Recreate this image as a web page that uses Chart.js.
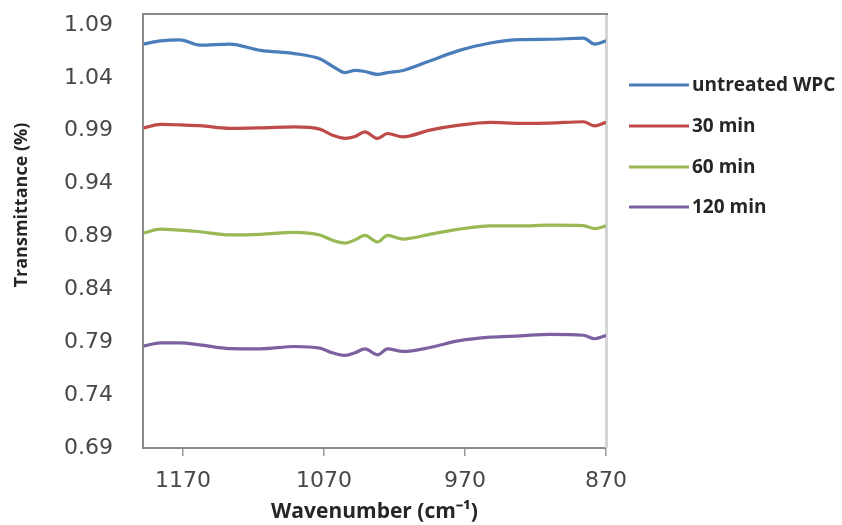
<!DOCTYPE html>
<html>
<head>
<meta charset="utf-8">
<script src="https://cdn.jsdelivr.net/npm/chart.js@4/dist/chart.umd.min.js"></script>
<style>
html,body{margin:0;padding:0;background:#fff;}
#wrap{width:842px;height:525px;}
</style>
</head>
<body>
<div id="wrap"><canvas id="c" width="842" height="525"></canvas></div>
<script>
const wavenumbers = [1198,1186,1172,1158,1137,1115,1091,1073,1064,1055,1048,1041,1032,1025,1014,995,974,952,931,910,886,878,870];
const untreatedWPC = [1.072,1.075,1.076,1.071,1.072,1.066,1.063,1.058,1.051,1.045,1.047,1.046,1.0433,1.045,1.047,1.056,1.066,1.073,1.0762,1.0765,1.0775,1.072,1.075];
const min30 = [0.9927,0.996,0.9955,0.9948,0.9922,0.9927,0.9937,0.9915,0.9858,0.9827,0.9845,0.989,0.9827,0.9874,0.9842,0.9906,0.9953,0.9979,0.997,0.9972,0.9985,0.9946,0.9979];
const min60 = [0.8933,0.897,0.896,0.8945,0.8915,0.892,0.8939,0.8914,0.8864,0.8838,0.8868,0.8911,0.8848,0.8911,0.8876,0.892,0.897,0.9,0.9,0.9007,0.9003,0.8974,0.9];
const min120 = [0.7863,0.7895,0.7895,0.7875,0.784,0.7838,0.786,0.7844,0.78,0.7775,0.78,0.7838,0.7781,0.7838,0.7813,0.785,0.7915,0.7948,0.796,0.7975,0.7966,0.7933,0.7964];
const seriesNames = ["untreated WPC","30 min","60 min","120 min"];
const seriesColors = ["#4a7ebb","#be4b48","#98b954","#7d60a0"];
const xTickValues = [1170,1070,970,870];
const yTickValues = [0.69,0.74,0.79,0.84,0.89,0.94,0.99,1.04,1.09];
const xTitle = 'Wavenumber (cm\u207B\u00B9)';
const yTitle = 'Transmittance (%)';

const allSeries = [untreatedWPC,min30,min60,min120];
const datasets = allSeries.map((vals,i)=>({
  label: seriesNames[i],
  data: wavenumbers.map((w,j)=>({x:w,y:vals[j]})),
  borderColor: seriesColors[i],
  backgroundColor: seriesColors[i],
  borderWidth: 3.2,
  pointRadius: 0,
  tension: 0.4,
  cubicInterpolationMode: 'monotone',
  fill: false
}));

const framePlugin = {
  id:'frame',
  beforeDatasetsDraw(chart){
    const {ctx, chartArea:a} = chart;
    ctx.save();
    ctx.strokeStyle = '#d4d4d4';
    ctx.lineWidth = 3;
    ctx.beginPath(); ctx.moveTo(a.right+0.5, a.top); ctx.lineTo(a.right+0.5, a.bottom); ctx.stroke();
    ctx.strokeStyle = '#8a8a8a';
    ctx.lineWidth = 2;
    ctx.beginPath(); ctx.moveTo(a.left, a.top); ctx.lineTo(a.right+2, a.top); ctx.stroke();
    ctx.restore();
  }
};
const yTitlePlugin = {
  id:'yTitle',
  afterDraw(chart){
    const {ctx} = chart;
    ctx.save();
    ctx.translate(22, 205);
    ctx.rotate(-Math.PI/2);
    ctx.fillStyle = '#262626';
    ctx.font = 'bold 18px "Open Sans"';
    ctx.textAlign = 'center';
    ctx.textBaseline = 'middle';
    ctx.fillText(yTitle, 0, 0);
    ctx.restore();
  }
};
const legendPlugin = {
  id:'customLegend',
  afterDraw(chart){
    const {ctx} = chart;
    const rows = [85,126,167,207];
    ctx.save();
    chart.data.datasets.forEach((ds,i)=>{
      const y = rows[i];
      ctx.strokeStyle = ds.borderColor;
      ctx.lineWidth = 3.2;
      ctx.beginPath(); ctx.moveTo(629,y); ctx.lineTo(689,y); ctx.stroke();
      ctx.fillStyle = '#262626';
      ctx.font = 'bold 19px "Open Sans"';
      ctx.textBaseline = 'middle';
      ctx.textAlign = 'left';
      ctx.fillText(ds.label, 692, y+1);
    });
    ctx.restore();
  }
};

new Chart(document.getElementById('c'), {
  type:'line',
  data:{datasets},
  options:{
    responsive:false,
    animation:false,
    devicePixelRatio:1,
    layout:{padding:{left:0,right:236,top:14,bottom:0}},
    plugins:{legend:{display:false},tooltip:{enabled:false}},
    scales:{
      x:{
        type:'linear',
        reverse:true,
        min:870,
        max:1198.4,
        afterBuildTicks(s){ s.ticks = xTickValues.map(v=>({value:v})); },
        afterFit(s){ s.height = 77; },
        grid:{display:true,drawOnChartArea:false,drawTicks:true,tickLength:8,color:'#9a9a9a',lineWidth:1.5},
        border:{display:true,color:'#8a8a8a',width:2},
        ticks:{font:{family:'DejaVu Sans',size:22},color:'#484848',padding:12,maxRotation:0,autoSkip:false,callback:v=>String(v)},
        title:{display:true,text:xTitle,font:{family:'Open Sans',size:21,weight:'bold'},color:'#262626',padding:{top:0,bottom:0}}
      },
      y:{
        type:'linear',
        min:0.69,
        max:1.1004,
        afterBuildTicks(s){ s.ticks = yTickValues.map(v=>({value:v})); },
        afterFit(s){ s.width = 143; s.paddingTop = 0; s.paddingBottom = 0; },
        grid:{display:false},
        border:{display:true,color:'#8a8a8a',width:2},
        ticks:{font:{family:'DejaVu Sans',size:22},color:'#484848',padding:22,autoSkip:false,callback:v=>v.toFixed(2)},
        title:{display:false}
      }
    }
  },
  plugins:[framePlugin,yTitlePlugin,legendPlugin]
});
</script>
</body>
</html>
